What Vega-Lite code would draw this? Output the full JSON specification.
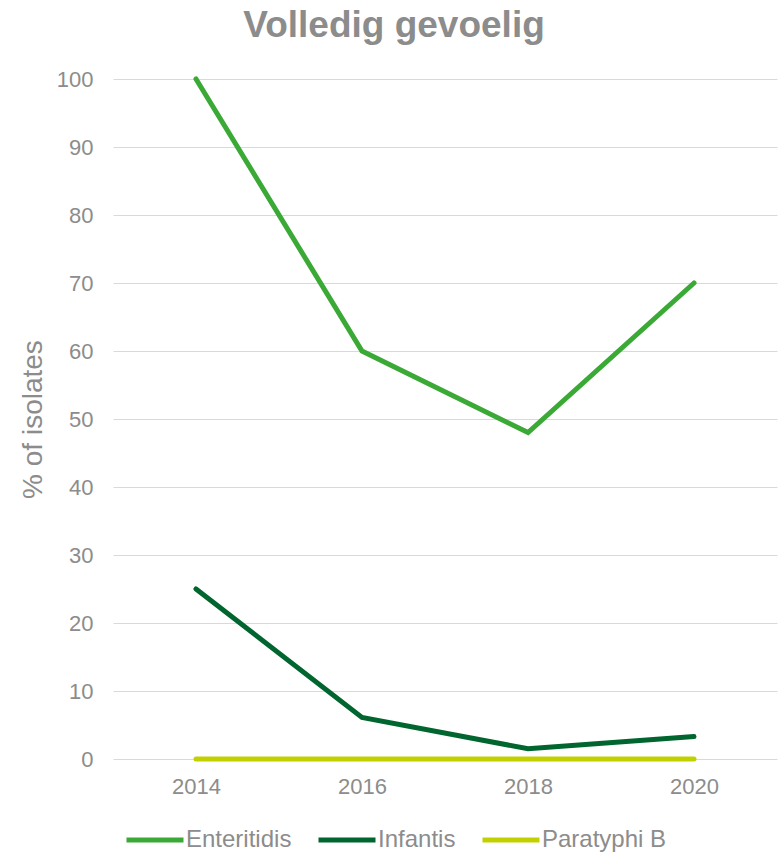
{
  "$schema": "https://vega.github.io/schema/vega-lite/v6.json",
  "autosize": "none",
  "width": 664,
  "height": 680,
  "padding": {"left": 113, "top": 79, "right": 7, "bottom": 93},
  "background": "white",
  "config": {
    "view": {"stroke": null},
    "font": "Liberation Sans"
  },
  "title": {
    "text": "Volledig gevoelig",
    "fontSize": 37,
    "fontWeight": "bold",
    "color": "#8c8c8c",
    "anchor": "middle",
    "dx": -51,
    "offset": 23,
    "font": "Liberation Sans"
  },
  "data": {
    "values": [
      {"year": "2014", "serotype": "Enteritidis", "pct": 100},
      {"year": "2016", "serotype": "Enteritidis", "pct": 60},
      {"year": "2018", "serotype": "Enteritidis", "pct": 48},
      {"year": "2020", "serotype": "Enteritidis", "pct": 70},
      {"year": "2014", "serotype": "Infantis", "pct": 25},
      {"year": "2016", "serotype": "Infantis", "pct": 6.1},
      {"year": "2018", "serotype": "Infantis", "pct": 1.5},
      {"year": "2020", "serotype": "Infantis", "pct": 3.3},
      {"year": "2014", "serotype": "Paratyphi B", "pct": 0},
      {"year": "2016", "serotype": "Paratyphi B", "pct": 0},
      {"year": "2018", "serotype": "Paratyphi B", "pct": 0},
      {"year": "2020", "serotype": "Paratyphi B", "pct": 0}
    ]
  },
  "mark": {"type": "line", "strokeWidth": 5, "strokeCap": "round", "strokeJoin": "miter"},
  "encoding": {
    "x": {
      "field": "year",
      "type": "ordinal",
      "scale": {"type": "point", "padding": 0.5},
      "axis": {
        "title": null,
        "labelAngle": 0,
        "labelFontSize": 22,
        "labelColor": "#8c8c8c",
        "labelPadding": 17,
        "ticks": false,
        "domain": false,
        "grid": false
      }
    },
    "y": {
      "field": "pct",
      "type": "quantitative",
      "scale": {"domain": [0, 100], "nice": false},
      "axis": {
        "title": "% of isolates",
        "titleFontSize": 28,
        "titleFontWeight": "normal",
        "titleColor": "#8c8c8c",
        "titlePadding": 9,
        "values": [0, 10, 20, 30, 40, 50, 60, 70, 80, 90, 100],
        "labelFontSize": 22,
        "labelColor": "#8c8c8c",
        "labelPadding": 20,
        "ticks": false,
        "domain": false,
        "grid": true,
        "gridColor": "#d9d9d9",
        "gridWidth": 1.2
      }
    },
    "color": {
      "field": "serotype",
      "type": "nominal",
      "scale": {
        "domain": ["Enteritidis", "Infantis", "Paratyphi B"],
        "range": ["#3aa935", "#00652e", "#c1d100"]
      },
      "legend": {
        "title": null,
        "orient": "none",
        "direction": "horizontal",
        "legendX": 11,
        "legendY": 730,
        "symbolType": "stroke",
        "symbolSize": 3249,
        "symbolStrokeWidth": 5,
        "labelFontSize": 24,
        "labelColor": "#8c8c8c",
        "labelOffset": 0,
        "columnPadding": 16
      }
    },
    "order": {"field": "year"}
  }
}
